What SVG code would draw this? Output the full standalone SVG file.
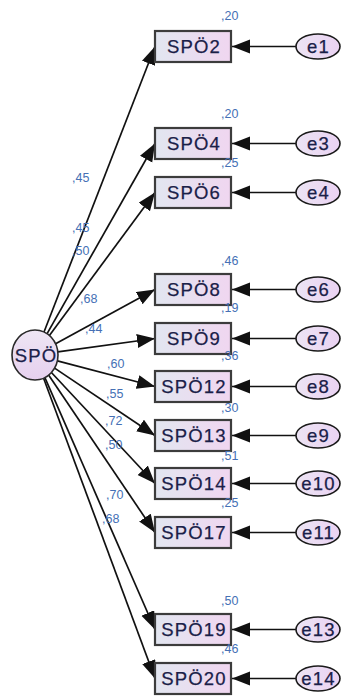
<svg xmlns="http://www.w3.org/2000/svg" width="341" height="698" viewBox="0 0 341 698">
<style>
.box{fill:url(#gb);stroke:#3c3c3c;stroke-width:2.2}
.err{fill:url(#ge);stroke:#1a1a1a;stroke-width:1.6}
.lat{fill:url(#gc);stroke:#2a2a2a;stroke-width:1.6}
.lbl{font-family:"Liberation Sans",Arial,sans-serif;font-size:18.5px;letter-spacing:1.2px;fill:#1a2048;stroke:#1a2048;stroke-width:0.25;text-anchor:middle}
.num{font-family:"Liberation Sans",Arial,sans-serif;font-size:12.5px;fill:#4570b5}
.ln{stroke:#111;stroke-width:1.7;fill:none;marker-end:url(#ah)}
</style>
<defs>
<linearGradient id="gb" x1="0" y1="0" x2="1" y2="0"><stop offset="0" stop-color="#e2e6f0"/><stop offset="1" stop-color="#f0d6f0"/></linearGradient>
<linearGradient id="ge" x1="0" y1="0" x2="1" y2="0"><stop offset="0" stop-color="#ece4f4"/><stop offset="1" stop-color="#ead2f2"/></linearGradient>
<linearGradient id="gc" x1="0" y1="0" x2="0" y2="1"><stop offset="0" stop-color="#eee6f4"/><stop offset="1" stop-color="#e6d0ee"/></linearGradient>
<marker id="ah" markerUnits="userSpaceOnUse" markerWidth="19" markerHeight="15" refX="18" refY="7" orient="auto"><path d="M0,0 L18,7 L0,14 z" fill="#111"/></marker>
</defs>
<g id="connectors">
<line class="ln" x1="44" y1="332" x2="155" y2="46.5"/>
<line class="ln" x1="47.1" y1="333.7" x2="155" y2="143.5"/>
<line class="ln" x1="49.4" y1="335.5" x2="155" y2="192.5"/>
<line class="ln" x1="55.6" y1="343.8" x2="155" y2="289.5"/>
<line class="ln" x1="57.8" y1="351.9" x2="155" y2="338.5"/>
<line class="ln" x1="57.4" y1="360.9" x2="155" y2="386.5"/>
<line class="ln" x1="54.6" y1="368.1" x2="155" y2="435.5"/>
<line class="ln" x1="51.4" y1="372.5" x2="155" y2="483.5"/>
<line class="ln" x1="48.6" y1="375.1" x2="155" y2="532.5"/>
<line class="ln" x1="44.9" y1="377.6" x2="155" y2="629.5"/>
<line class="ln" x1="43.6" y1="378.2" x2="155" y2="678.5"/>
<line class="ln" x1="296" y1="46.5" x2="232" y2="46.5"/>
<line class="ln" x1="296" y1="143.5" x2="232" y2="143.5"/>
<line class="ln" x1="296" y1="192.5" x2="232" y2="192.5"/>
<line class="ln" x1="296" y1="289.5" x2="232" y2="289.5"/>
<line class="ln" x1="296" y1="338.5" x2="232" y2="338.5"/>
<line class="ln" x1="296" y1="386.5" x2="232" y2="386.5"/>
<line class="ln" x1="296" y1="435.5" x2="232" y2="435.5"/>
<line class="ln" x1="296" y1="483.5" x2="232" y2="483.5"/>
<line class="ln" x1="296" y1="532.5" x2="232" y2="532.5"/>
<line class="ln" x1="296" y1="629.5" x2="232" y2="629.5"/>
<line class="ln" x1="296" y1="678.5" x2="232" y2="678.5"/>
</g>
<g id="path-labels">
<text class="num" x="72" y="182">,45</text>
<text class="num" x="72" y="231.5">,45</text>
<text class="num" x="72" y="254.5">,50</text>
<text class="num" x="80" y="302.5">,68</text>
<text class="num" x="85" y="332.5">,44</text>
<text class="num" x="107" y="367.5">,60</text>
<text class="num" x="106" y="397.5">,55</text>
<text class="num" x="105" y="424.5">,72</text>
<text class="num" x="105" y="448.5">,50</text>
<text class="num" x="106" y="498.5">,70</text>
<text class="num" x="102" y="522.5">,68</text>
</g>
<g id="SPO">
<ellipse class="lat" cx="35" cy="355" rx="23" ry="25"/>
<text class="lbl" x="36" y="361.5">SPÖ</text>
</g>
<g id="SPO2"><rect class="box" x="155" y="31" width="76" height="31"/><text class="lbl" x="194" y="53">SPÖ2</text><text class="num" x="221" y="19.5">,20</text></g>
<g id="SPO4"><rect class="box" x="155" y="128" width="76" height="31"/><text class="lbl" x="194" y="150">SPÖ4</text><text class="num" x="221" y="117.5">,20</text></g>
<g id="SPO6"><rect class="box" x="155" y="177" width="76" height="31"/><text class="lbl" x="194" y="199">SPÖ6</text><text class="num" x="221" y="166.5">,25</text></g>
<g id="SPO8"><rect class="box" x="155" y="274" width="76" height="31"/><text class="lbl" x="194" y="296">SPÖ8</text><text class="num" x="221" y="264.5">,46</text></g>
<g id="SPO9"><rect class="box" x="155" y="323" width="76" height="31"/><text class="lbl" x="194" y="345">SPÖ9</text><text class="num" x="221" y="311.5">,19</text></g>
<g id="SPO12"><rect class="box" x="155" y="371" width="76" height="31"/><text class="lbl" x="194" y="393">SPÖ12</text><text class="num" x="221" y="359.5">,36</text></g>
<g id="SPO13"><rect class="box" x="155" y="420" width="76" height="31"/><text class="lbl" x="194" y="442">SPÖ13</text><text class="num" x="221" y="411.5">,30</text></g>
<g id="SPO14"><rect class="box" x="155" y="468" width="76" height="31"/><text class="lbl" x="194" y="490">SPÖ14</text><text class="num" x="221" y="459.5">,51</text></g>
<g id="SPO17"><rect class="box" x="155" y="517" width="76" height="31"/><text class="lbl" x="194" y="539">SPÖ17</text><text class="num" x="221" y="506.5">,25</text></g>
<g id="SPO19"><rect class="box" x="155" y="614" width="76" height="31"/><text class="lbl" x="194" y="636">SPÖ19</text><text class="num" x="221" y="604.5">,50</text></g>
<g id="SPO20"><rect class="box" x="155" y="663" width="76" height="31"/><text class="lbl" x="194" y="685">SPÖ20</text><text class="num" x="221" y="652.5">,46</text></g>
<g id="e1"><ellipse class="err" cx="318" cy="46.5" rx="22" ry="12.5"/><text class="lbl" x="318.5" y="53">e1</text></g>
<g id="e3"><ellipse class="err" cx="318" cy="143.5" rx="22" ry="12.5"/><text class="lbl" x="318.5" y="150">e3</text></g>
<g id="e4"><ellipse class="err" cx="318" cy="192.5" rx="22" ry="12.5"/><text class="lbl" x="318.5" y="199">e4</text></g>
<g id="e6"><ellipse class="err" cx="318" cy="289.5" rx="22" ry="12.5"/><text class="lbl" x="318.5" y="296">e6</text></g>
<g id="e7"><ellipse class="err" cx="318" cy="338.5" rx="22" ry="12.5"/><text class="lbl" x="318.5" y="345">e7</text></g>
<g id="e8"><ellipse class="err" cx="318" cy="386.5" rx="22" ry="12.5"/><text class="lbl" x="318.5" y="393">e8</text></g>
<g id="e9"><ellipse class="err" cx="318" cy="435.5" rx="22" ry="12.5"/><text class="lbl" x="318.5" y="442">e9</text></g>
<g id="e10"><ellipse class="err" cx="318" cy="483.5" rx="22" ry="12.5"/><text class="lbl" x="318.5" y="490">e10</text></g>
<g id="e11"><ellipse class="err" cx="318" cy="532.5" rx="22" ry="12.5"/><text class="lbl" x="318.5" y="539">e11</text></g>
<g id="e13"><ellipse class="err" cx="318" cy="629.5" rx="22" ry="12.5"/><text class="lbl" x="318.5" y="636">e13</text></g>
<g id="e14"><ellipse class="err" cx="318" cy="678.5" rx="22" ry="12.5"/><text class="lbl" x="318.5" y="685">e14</text></g>
</svg>
